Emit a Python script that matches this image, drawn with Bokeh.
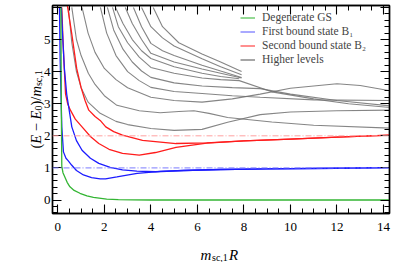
import math
import numpy as np
from bokeh.plotting import figure
from bokeh.layouts import row, column
from bokeh.models import (Range1d, LinearAxis, SingleIntervalTicker, Span, Label, LabelSet,
                          ColumnDataSource, Legend, LegendItem)
from bokeh.embed import file_html
from bokeh.resources import INLINE

# ---------------- data ----------------
gs_x = [0.13, 0.15, 0.17, 0.22, 0.30, 0.40, 0.52, 0.70, 0.95, 1.25, 1.53, 2.1, 2.6, 3.2, 4.0, 6.0, 10.0, 14.3]
gs_y = [6.0, 2.8, 1.05, 0.85, 0.72, 0.55, 0.41, 0.30, 0.21, 0.13, 0.08, 0.03, 0.015, 0.005, 0.0, 0.0, 0.0, 0.0]

b1a_x = [0.07, 0.10, 0.17, 0.24, 0.35, 0.45, 0.59, 0.80, 1.10, 1.45, 1.82, 2.05, 2.54, 3.41, 4.42, 5.4, 7.0, 9.0, 12.0, 14.3]
b1a_y = [6.0, 4.35, 2.28, 1.50, 1.30, 1.22, 1.09, 0.92, 0.78, 0.70, 0.66, 0.66, 0.72, 0.83, 0.89, 0.92, 0.95, 0.97, 0.99, 1.01]
b1b_x = [0.15, 0.20, 0.28, 0.38, 0.60, 0.80, 1.04, 1.40, 1.76, 2.25, 2.78, 3.40, 4.20, 5.4, 7.0, 9.0, 12.0, 14.3]
b1b_y = [6.0, 5.2, 4.1, 3.3, 2.28, 1.85, 1.55, 1.30, 1.14, 1.02, 0.94, 0.90, 0.88, 0.92, 0.95, 0.97, 0.99, 1.01]

b2a_x = [0.17, 0.22, 0.26, 0.33, 0.42, 0.54, 0.75, 1.04, 1.40, 1.76, 2.20, 2.78, 3.50, 4.20, 5.08, 6.4, 8.0, 10.0, 12.0, 14.3]
b2a_y = [6.0, 5.0, 4.35, 3.31, 3.0, 2.80, 2.52, 2.28, 1.98, 1.76, 1.58, 1.45, 1.40, 1.48, 1.64, 1.77, 1.84, 1.90, 1.96, 2.02]
b2b_x = [0.38, 0.60, 0.76, 0.81, 1.00, 1.17, 1.33, 1.60, 1.82, 2.06, 2.40, 2.78, 3.64, 5.08, 6.4, 8.0, 10.0, 12.0, 14.3]
b2b_y = [6.2, 5.17, 4.35, 4.10, 3.50, 3.10, 2.80, 2.60, 2.48, 2.28, 2.13, 2.02, 1.86, 1.76, 1.78, 1.84, 1.90, 1.96, 2.02]

hl_x = [
    [0.45, 0.6, 0.8, 1.0, 1.3, 1.82, 2.5, 3.0, 4.0, 5.0, 6.2, 7.3, 8.7, 10.0, 12.0, 14.3],
    [0.6, 0.8, 1.0, 1.31, 1.6, 2.0, 2.54, 3.5, 4.4, 5.2, 5.85, 6.5, 7.3, 9.2, 11.0, 14.3],
    [1.04, 1.3, 1.6, 2.0, 2.5, 3.0, 4.0, 5.0, 6.2, 7.5, 8.7, 10.0, 12.0, 13.0, 14.3],
    [1.83, 2.1, 2.5, 3.0, 3.5, 4.0, 5.0, 6.2, 7.5, 8.7, 11.0, 14.3],
    [2.13, 2.4, 2.8, 3.2, 3.6, 4.0, 5.0, 6.2, 7.5, 8.7, 10.0, 12.0, 14.3],
    [2.35, 2.6, 3.0, 3.5, 4.0, 5.0, 6.2, 7.0, 7.8, 9.2, 11.0, 12.5, 14.3],
    [2.48, 2.8, 3.2, 3.6, 4.0, 5.0, 6.2, 7.0, 7.8],
    [2.9, 3.2, 3.6, 4.0, 5.0, 6.2, 7.0, 7.9],
    [3.25, 3.6, 4.0, 4.5, 5.0, 6.2, 7.0, 7.9],
    [3.6, 4.0, 4.5, 5.0, 6.2, 7.0, 7.9],
    [4.1, 4.5, 5.2, 6.2, 7.0, 7.9],
]
hl_y = [
    [6.0, 4.9, 4.0, 3.5, 3.05, 2.7, 2.45, 2.35, 2.23, 2.17, 2.2, 2.42, 2.66, 2.74, 2.78, 2.8],
    [6.0, 5.0, 4.5, 3.95, 3.6, 3.25, 2.95, 2.78, 2.72, 2.76, 2.78, 2.7, 2.57, 2.43, 2.33, 2.24],
    [6.0, 5.2, 4.6, 4.1, 3.75, 3.5, 3.2, 3.1, 3.05, 3.15, 3.3, 3.48, 3.62, 3.57, 3.4],
    [6.0, 5.2, 4.5, 4.0, 3.72, 3.51, 3.38, 3.32, 3.25, 3.2, 3.12, 3.1],
    [6.0, 5.3, 4.7, 4.3, 4.02, 3.82, 3.65, 3.55, 3.5, 3.47, 3.3, 3.1, 2.93],
    [6.0, 5.4, 4.9, 4.45, 4.13, 3.95, 3.8, 3.75, 3.72, 3.37, 3.15, 3.0, 2.88],
    [6.0, 5.5, 5.0, 4.65, 4.41, 4.15, 3.95, 3.85, 3.78],
    [6.0, 5.5, 5.0, 4.57, 4.3, 4.08, 3.95, 3.8],
    [6.0, 5.4, 4.88, 4.65, 4.5, 4.2, 4.02, 3.82],
    [6.0, 5.4, 5.05, 4.8, 4.4, 4.15, 3.9],
    [6.0, 5.4, 4.9, 4.55, 4.3, 4.0],
]

ref_levels = [1.0, 2.0]
x_ticks_interval = 2
y_ticks_interval = 1
y_tick_values = [0, 1, 2, 3, 4, 5]
y_tick_labels = ["0", "1", "2", "3", "4", "5"]
legend_labels = ["Degenerate GS", "First bound state B\u2081", "Second bound state B\u2082", "Higher levels"]

# ---------------- styling ----------------
SERIF = "Liberation Serif"
GREEN, BLUE, RED, GRAY = "#33b533", "#1c1cff", "#ff1c1c", "#707070"
LG_GREEN, LG_BLUE, LG_RED, LG_GRAY = "#70cc70", "#8c8cff", "#ff6a6a", "#888888"

yr = Range1d(-0.42, 6.06)

p = figure(width=348, height=240, output_backend="svg", toolbar_location=None,
           x_range=Range1d(-0.23, 14.26), y_range=yr,
           min_border_left=1, min_border_right=10, min_border_top=5, min_border_bottom=27,
           x_axis_type=None, y_axis_type=None)
p.grid.visible = False
p.outline_line_color = "black"
p.outline_line_width = 1.4
p.background_fill_color = "white"
p.border_fill_color = "white"


def style_axis(ax, labels=True, standoff=3):
    ax.axis_line_color = "black"
    ax.axis_line_width = 1.4
    ax.major_tick_in = 9
    ax.major_tick_out = 0
    ax.minor_tick_in = 5
    ax.minor_tick_out = 0
    ax.major_tick_line_color = "black"
    ax.minor_tick_line_color = "black"
    ax.major_tick_line_width = 1.1
    ax.minor_tick_line_width = 1.0
    if labels:
        ax.major_label_text_font = SERIF
        ax.major_label_text_font_size = "13px"
        ax.major_label_text_color = "black"
        ax.major_label_standoff = standoff
    else:
        ax.major_label_text_font_size = "0px"
        ax.major_label_standoff = 0
        ax.major_label_text_alpha = 0


for loc, lab in (("below", True), ("above", False)):
    ax = LinearAxis(ticker=SingleIntervalTicker(interval=x_ticks_interval, num_minor_ticks=4))
    style_axis(ax, lab, standoff=9)
    p.add_layout(ax, loc)
for loc in ("left", "right"):
    ax = LinearAxis(ticker=SingleIntervalTicker(interval=y_ticks_interval, num_minor_ticks=5))
    style_axis(ax, False)
    p.add_layout(ax, loc)

# reference dash-dot lines
p.add_layout(Span(location=ref_levels[0], dimension="width", line_color="#7a7aff",
                  line_dash="6 2 1 2", line_width=1.0))
p.add_layout(Span(location=ref_levels[1], dimension="width", line_color="#ffa0a0",
                  line_dash="6 2 1 2", line_width=1.0))

for xs, ys in zip(hl_x, hl_y):
    p.line(xs, ys, line_color=GRAY, line_width=1.1, line_alpha=0.85)
p.line(b2a_x, b2a_y, line_color=RED, line_width=1.3)
p.line(b2b_x, b2b_y, line_color=RED, line_width=1.3)
p.line(b1a_x, b1a_y, line_color=BLUE, line_width=1.3)
p.line(b1b_x, b1b_y, line_color=BLUE, line_width=1.3)
p.line(gs_x, gs_y, line_color=GREEN, line_width=1.3)

# legend samples (one NaN point each, so nothing is drawn in the plot)
lr = []
for c in (LG_GREEN, LG_BLUE, LG_RED, LG_GRAY):
    lr.append(p.line(np.array([np.nan]), np.array([np.nan]), line_color=c, line_width=1.5))
legend = Legend(items=[LegendItem(label=t, renderers=[r]) for t, r in zip(legend_labels, lr)],
                location=(188, 148), padding=0, margin=0, spacing=2,
                label_height=11, glyph_height=11, glyph_width=15, label_standoff=7,
                label_text_font=SERIF, label_text_font_size="11.5px",
                border_line_alpha=0, background_fill_alpha=0)
p.add_layout(legend)


def blank(w, h, **kw):
    f = figure(width=w, height=h, output_backend="svg", toolbar_location=None,
               x_range=kw.pop("x_range", Range1d(0, 1)), y_range=kw.pop("y_range", Range1d(0, 1)),
               x_axis_type=None, y_axis_type=None, **kw)
    f.grid.visible = False
    f.outline_line_color = None
    f.background_fill_color = "white"
    f.border_fill_color = "white"
    return f


def lab(fig, text, x, y, size, style="normal", angle=0.0):
    fig.add_layout(Label(x=x, y=y, x_units="screen", y_units="screen", text=text,
                         text_font=SERIF, text_font_size=f"{size}px", text_font_style=style,
                         text_color="black", angle=angle, text_baseline="alphabetic",
                         text_align="left"))


# left panel: y tick labels (same y range, same frame height) + y-axis title
yl = blank(51, 240, y_range=yr, min_border_left=0, min_border_right=0,
           min_border_top=5, min_border_bottom=27)
tick_src = ColumnDataSource(dict(y=y_tick_values, text=y_tick_labels))
yl.add_layout(LabelSet(x=50, y="y", text="text", source=tick_src, x_units="screen", y_units="data",
                       text_align="right", text_baseline="middle", text_font=SERIF,
                       text_font_size="13px", text_color="black"))

A = math.pi / 2
bx, y0 = 35.5, 65
lab(yl, "(", bx, y0, 14.5, angle=A)
lab(yl, "E", bx, y0 + 4.8, 14.5, "italic", angle=A)
lab(yl, "\u2212", bx, y0 + 17.3, 14.5, angle=A)
lab(yl, "E", bx, y0 + 29.1, 14.5, "italic", angle=A)
lab(yl, "0", bx + 2.5, y0 + 38.0, 10, angle=A)
lab(yl, ")/", bx, y0 + 43.0, 14.5, angle=A)
lab(yl, "m", bx, y0 + 51.9, 14.5, "italic", angle=A)
lab(yl, "sc,1", bx + 2.5, y0 + 62.4, 10, angle=A)

# x-axis title panel
xl = blank(399, 22, min_border=0)
lab(xl, "m", 200, 8, 15, "italic")
lab(xl, "sc,1", 211.5, 5, 10)
lab(xl, "R", 228.5, 8, 15, "italic")

layout = column(row(yl, p, spacing=0), xl, spacing=0)
open("out.html", "w").write(file_html(layout, INLINE))
